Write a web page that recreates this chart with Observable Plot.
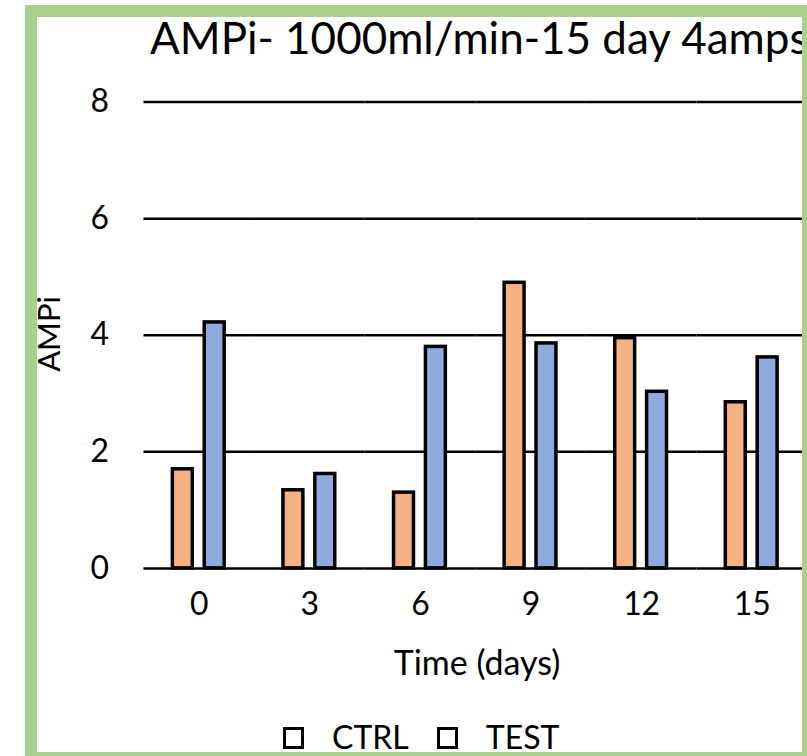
<!DOCTYPE html>
<html>
<head>
<meta charset="utf-8">
<script src="https://cdn.jsdelivr.net/npm/d3@7"></script>
<script src="https://cdn.jsdelivr.net/npm/@observablehq/plot@0.6"></script>
<style>
  html, body { margin: 0; padding: 0; background: #fff; overflow: hidden; }
  body { width: 807px; height: 756px; position: relative; font-family: Lato, "Open Sans", sans-serif; color: #000; }
  .abs { position: absolute; line-height: 1; white-space: nowrap; }
  #frame { position: absolute; left: 25px; top: 5px; width: 789px; height: 759px; box-sizing: border-box;
           border: 12px solid #A9D18E; z-index: 10; pointer-events: none; }
  #chart { position: absolute; left: 0; top: 0; }
  #title { left: 150px; top: 15px; font-size: 44px; }
  #ylabel { left: 33px; top: 334px; font-size: 31px; transform-origin: 0 0; transform: rotate(-90deg) translateX(-50%); }
  #xlabel { left: 477px; top: 645px; font-size: 34px; transform: translateX(-50%); }
  #legend { left: 283px; top: 721px; font-size: 32px; display: flex; align-items: flex-start; }
  .item { display: flex; align-items: flex-start; }
  .swatch { width: 21px; height: 22px; box-sizing: border-box; border: 3px solid #000; background: #fff; margin-top: 6px; }
  .item span { margin-left: 28px; }
  .item + .item { margin-left: 28px; }
</style>
</head>
<body>
<div id="frame"></div>
<div id="chart"></div>
<div id="title" class="abs">AMPi- 1000ml/min-15 day 4amps</div>
<div id="ylabel" class="abs">AMPi</div>
<div id="xlabel" class="abs">Time (days)</div>
<div id="legend" class="abs"></div>
<script>
// Sampling days and the two series measured on each
const days = [0, 3, 6, 9, 12, 15];
const series = ["CTRL", "TEST"];
const ctrlValues = [1.70, 1.34, 1.30, 4.90, 3.95, 2.85];
const testValues = [4.22, 1.62, 3.80, 3.86, 3.03, 3.62];
const yTicks = [0, 2, 4, 6, 8];
const seriesColors = ["#F4B183", "#8FAADC"];

const rows = days.flatMap((day, i) => [
  {day, series: "CTRL", value: ctrlValues[i]},
  {day, series: "TEST", value: testValues[i]}
]);

const chart = Plot.plot({
  width: 810,
  height: 640,
  marginLeft: 144,
  marginRight: 0,
  marginTop: 102,
  marginBottom: 70,
  style: {fontFamily: "Lato, 'Open Sans', sans-serif", fontSize: "31px", color: "#000", background: "transparent", overflow: "visible"},
  fx: {domain: days, padding: 0, label: null},
  x: {domain: series, paddingInner: 0.36, paddingOuter: 0.9, axis: null},
  y: {domain: [0, 8], ticks: yTicks, label: null},
  color: {domain: series, range: seriesColors},
  marks: [
    Plot.gridY(yTicks, {stroke: "#000", strokeOpacity: 1, strokeWidth: 2.5}),
    Plot.axisY(yTicks, {tickSize: 0, tickPadding: 35, label: null, fontSize: 32, tickFormat: d => String(d)}),
    Plot.axisFx({anchor: "bottom", tickSize: 0, tickPadding: 24, label: null, fontSize: 32, tickFormat: d => String(d)}),
    Plot.barY(rows, {fx: "day", x: "series", y: "value", fill: "series", stroke: "#000", strokeWidth: 3.5})
  ]
});
document.getElementById("chart").appendChild(chart);

// Legend entries, one per series
const legend = document.getElementById("legend");
series.forEach(name => {
  const item = document.createElement("div");
  item.className = "item";
  const box = document.createElement("div");
  box.className = "swatch";
  const label = document.createElement("span");
  label.textContent = name;
  item.appendChild(box);
  item.appendChild(label);
  legend.appendChild(item);
});
</script>
</body>
</html>
